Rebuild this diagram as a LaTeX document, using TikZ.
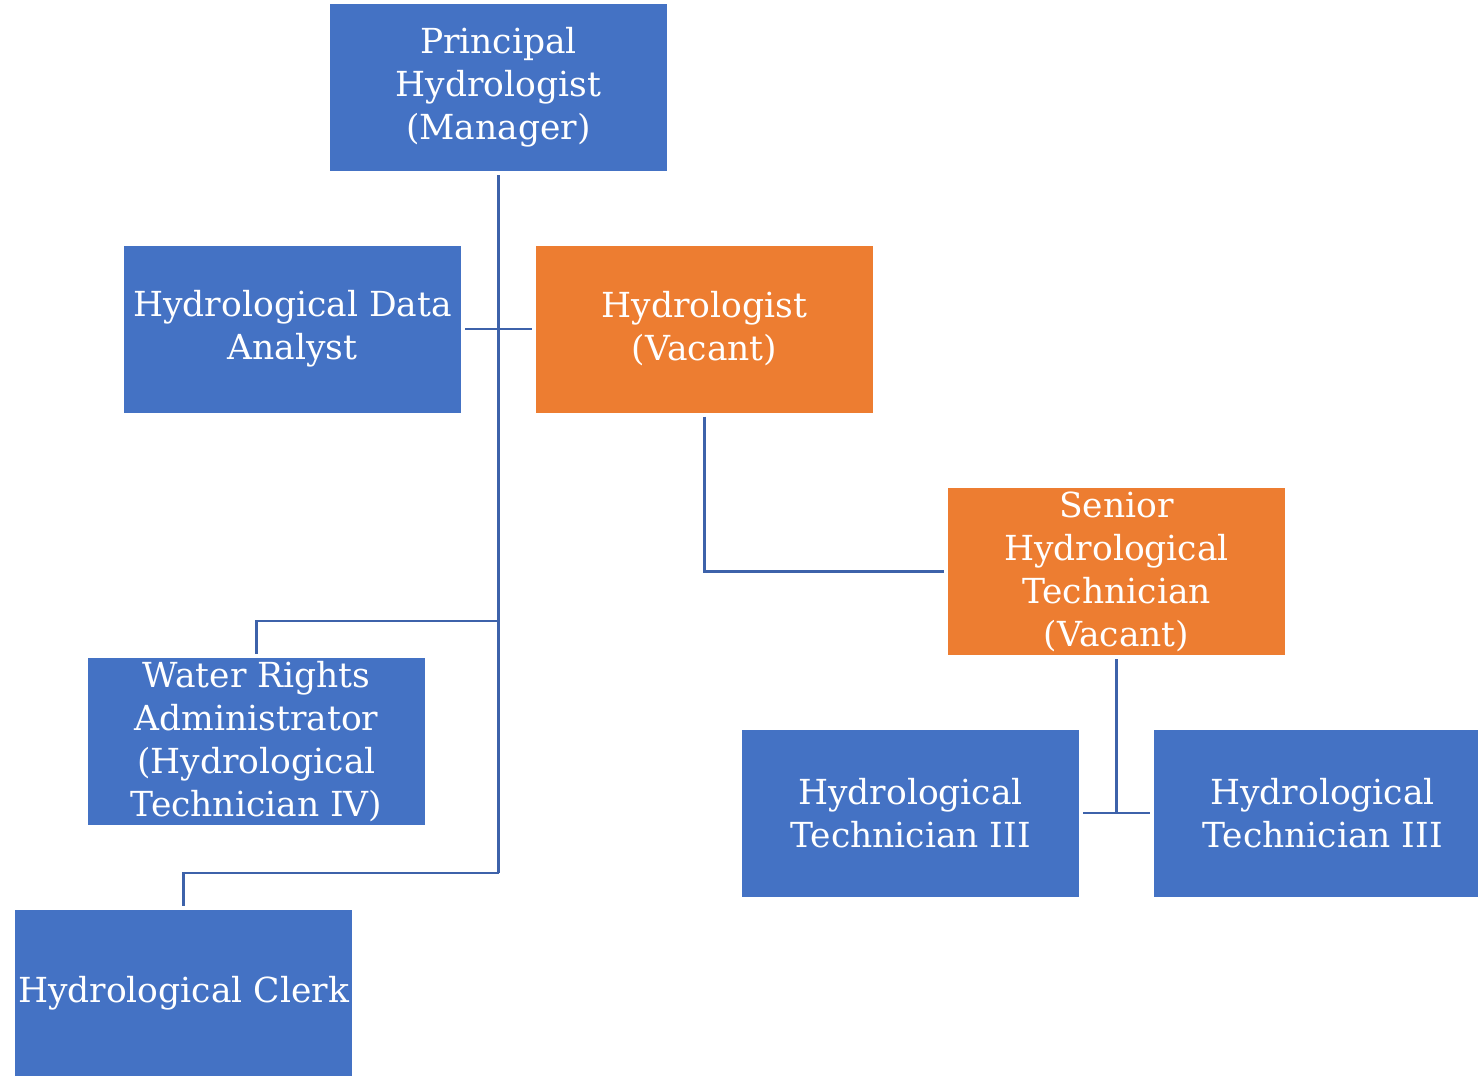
\documentclass[tikz,border=0pt]{standalone}
\usepackage{fontspec}
\setmainfont{DejaVu Serif}
\definecolor{boxblue}{HTML}{4472C4}
\definecolor{boxorange}{HTML}{ED7D31}
\definecolor{linkblue}{HTML}{3D62AA}
\begin{document}
\begin{tikzpicture}[x=1pt,y=-1pt,
  box/.style={fill=boxblue,draw=none,minimum width=337pt,minimum height=167pt,inner sep=0pt,
    outer sep=4pt,text=white,align=center,font=\fontsize{34.5}{43}\selectfont},
  obox/.style={box,fill=boxorange},
  link/.style={draw=linkblue,line width=2.5pt}]
\useasboundingbox (0,0) rectangle (1478,1076);
\clip (0,0) rectangle (1478,1076);
\node[box] (pm) at (498.5,87.5) {Principal\\Hydrologist\\(Manager)};
\node[box] (da) at (292.5,329) {Hydrological Data\\Analyst};
\node[obox] (hy) at (704.5,329) {Hydrologist\\(Vacant)};
\node[obox] (sr) at (1116.5,571.5) {Senior\\Hydrological\\Technician\\(Vacant)};
\node[box] (wr) at (256.5,741.5) {Water Rights\\Administrator\\(Hydrological\\Technician IV)};
\node[box] (cl) at (183.5,993.5) {Hydrological Clerk};
\node[box] (t1) at (910.5,813) {Hydrological\\Technician III};
\node[box] (t2) at (1322.5,813) {Hydrological\\Technician III};
\coordinate (j1) at (498.5,621);
\coordinate (j2) at (498.5,873);
\draw[link] (pm.south) -- (j2);
\draw[link] (da.east) -- (hy.west);
\draw[link] (j1) -| (wr.north);
\draw[link] (j2) -| (cl.north);
\draw[link] (hy.south) |- (sr.west);
\draw[link] (t1.east) -- (t2.west);
\draw[link] (sr.south) -- (sr.south |- t1.east);
\end{tikzpicture}
\end{document}
